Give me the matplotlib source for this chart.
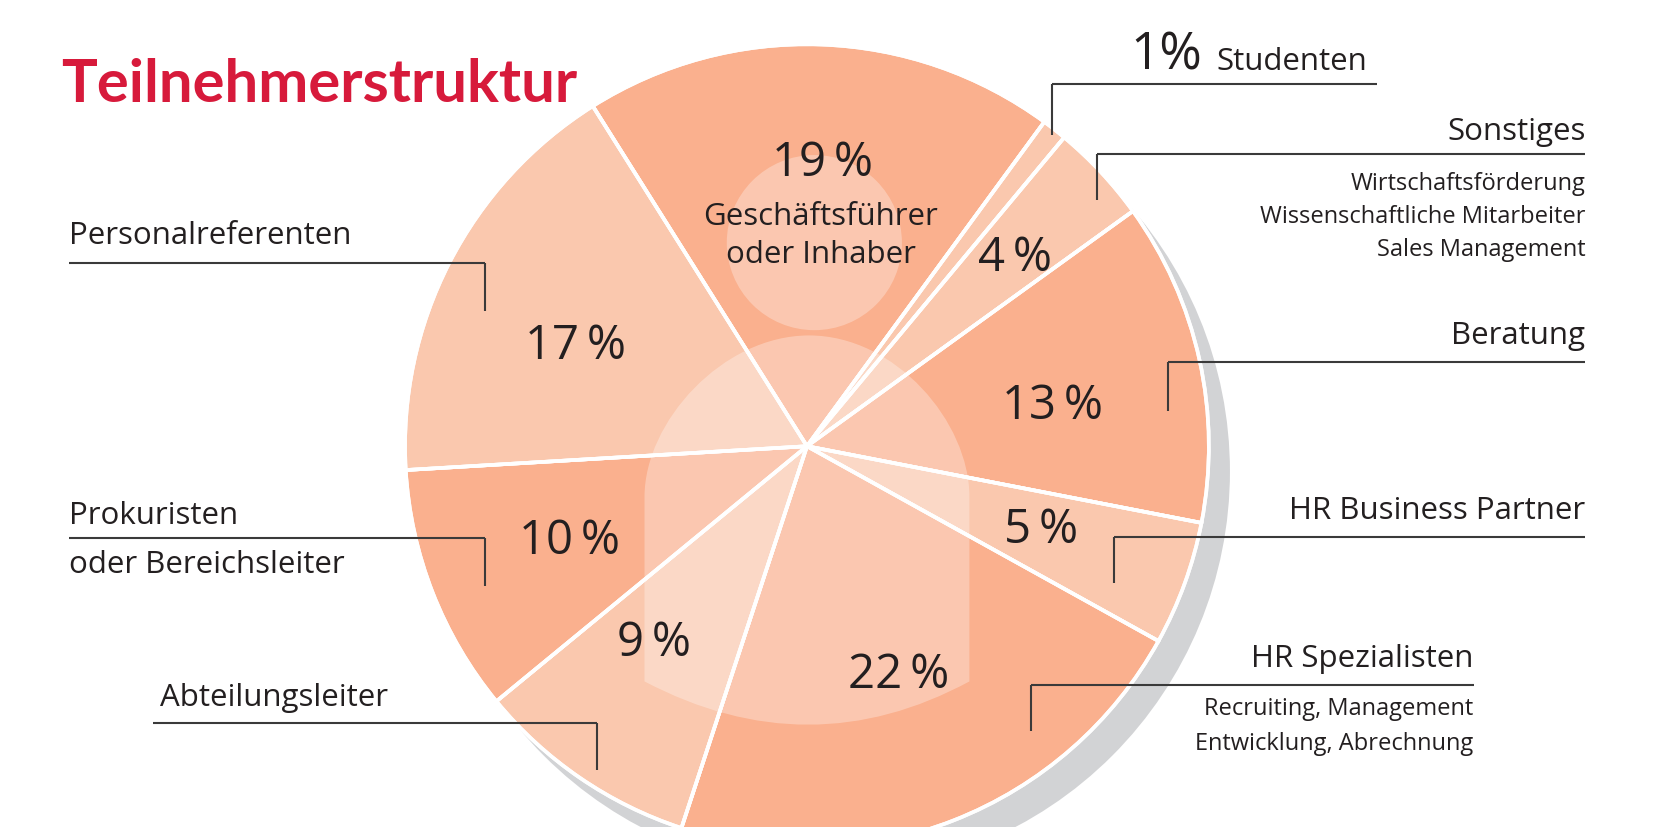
import matplotlib
matplotlib.use("Agg")
import matplotlib.pyplot as plt
from matplotlib.patches import Circle, PathPatch, Wedge
from matplotlib.path import Path

# ---------------- data ----------------
categories = ["Geschäftsführer oder Inhaber", "Studenten", "Sonstiges", "Beratung",
              "HR Business Partner", "HR Spezialisten", "Abteilungsleiter",
              "Prokuristen oder Bereichsleiter", "Personalreferenten"]
values = [19, 1, 4, 13, 5, 22, 9, 10, 17]
shade = ["dark", "light", "light", "dark", "light", "dark", "light", "dark", "light"]
title = "Teilnehmerstruktur"

# ---------------- style ----------------
DARK = "#FAB08E"
LIGHT = "#FAC8AE"
SHADOW = "#D2D3D5"
TXT = "#231F20"
LINE = "#3A3A3A"
RED = "#D71A3B"
FONT = ["Open Sans", "DejaVu Sans"]

W, H = 1568, 784          # layout units (figure is 1654x827 px)
def Y(y):                 # layout helper: top-down -> bottom-up
    return H - y

fig = plt.figure(figsize=(16.54, 8.27), dpi=100)
ax = fig.add_axes([0, 0, 1, 1])

cx, cy, R = 765, Y(423), 381

# shadow
ax.add_patch(Circle((cx + 20, cy - 24), R, color=SHADOW, zorder=0, lw=0))

colors = [DARK if s == "dark" else LIGHT for s in shade]
wedges, _ = ax.pie(values, colors=colors, startangle=122.2, counterclock=False,
                   center=(cx, cy), radius=R,
                   wedgeprops=dict(edgecolor="white", linewidth=2.6, zorder=1))
ax.set_xlim(0, W)
ax.set_ylim(0, H)
ax.set_aspect("equal")
ax.axis("off")

# person silhouette overlay
ax.add_patch(Circle((772, Y(230)), 83, color="white", alpha=0.3, lw=0, zorder=2))
verts = [(611, 646), (611, 471),
         (611, 400), (685, 318), (767, 318),
         (849, 318), (919, 400), (919, 471),
         (919, 646),
         (767, 728), (611, 646),
         (611, 646)]
codes = [Path.MOVETO, Path.LINETO,
         Path.CURVE4, Path.CURVE4, Path.CURVE4,
         Path.CURVE4, Path.CURVE4, Path.CURVE4,
         Path.LINETO,
         Path.CURVE3, Path.CURVE3,
         Path.CLOSEPOLY]
verts = [(x, Y(y)) for x, y in verts]
ax.add_patch(PathPatch(Path(verts, codes), facecolor="white", alpha=0.3, lw=0, zorder=2))

# white separators redrawn on top
for w in wedges:
    ax.add_patch(Wedge((cx, cy), R, w.theta1, w.theta2, facecolor="none",
                       edgecolor="white", linewidth=2.6, zorder=3))

# ---------------- texts ----------------
def txt(x, y, s, size, ha="left", weight="normal", color=TXT, family=FONT):
    ax.text(x, Y(y), s, fontsize=size, ha=ha, va="baseline", color=color,
            family=family, fontweight=weight, zorder=5)

txt(58, 97, title, 43, weight="bold", color=RED, family=["Lato", "DejaVu Sans"])

# percent labels inside
pct_pos = [(780, 167), None, (962, 257), (998, 397), (987, 515),
           (852, 652), (620, 622), (540, 525), (546, 340)]
for v, p in zip(values, pct_pos):
    if p is not None:
        txt(p[0], p[1], f"{v}\u2009%", 34, ha="center")

txt(778, 213, "Geschäftsführer", 22.5, ha="center")
txt(778, 249, "oder Inhaber", 22.5, ha="center")

# outside labels
LS, SS = 22.5, 17
txt(1072, 66, f"{values[1]}%", 37)
txt(1153, 66, "Studenten", LS)
txt(1503, 133, "Sonstiges", LS, ha="right")
txt(1503, 180, "Wirtschaftsförderung", SS, ha="right")
txt(1503, 211, "Wissenschaftliche Mitarbeiter", SS, ha="right")
txt(1503, 243, "Sales Management", SS, ha="right")
txt(1503, 326, "Beratung", LS, ha="right")
txt(1503, 492, "HR Business Partner", LS, ha="right")
txt(1397, 632, "HR Spezialisten", LS, ha="right")
txt(1397, 678, "Recruiting, Management", SS, ha="right")
txt(1397, 711, "Entwicklung, Abrechnung", SS, ha="right")
txt(65, 231, "Personalreferenten", LS)
txt(65, 497, "Prokuristen", LS)
txt(65, 543, "oder Bereichsleiter", LS)
txt(152, 669, "Abteilungsleiter", LS)

# leader lines: (x_start, x_end, y_line, x_tick, y_tick_end)
leaders = [
    (997, 1305, 80, 997, 128),
    (1040, 1503, 146, 1040, 190),
    (1107, 1503, 343, 1107, 390),
    (1056, 1503, 509, 1056, 553),
    (977, 1397, 649, 977, 693),
    (65, 460, 249, 460, 295),
    (65, 460, 510, 460, 556),
    (145, 566, 685, 566, 730),
]
for x0, x1, yl, xt, yt in leaders:
    ax.plot([x0, x1], [Y(yl), Y(yl)], color=LINE, lw=1.5, zorder=4, solid_capstyle="butt")
    ax.plot([xt, xt], [Y(yl), Y(yt)], color=LINE, lw=1.5, zorder=4, solid_capstyle="butt")

fig.savefig("out.png", dpi=100, facecolor="white")
